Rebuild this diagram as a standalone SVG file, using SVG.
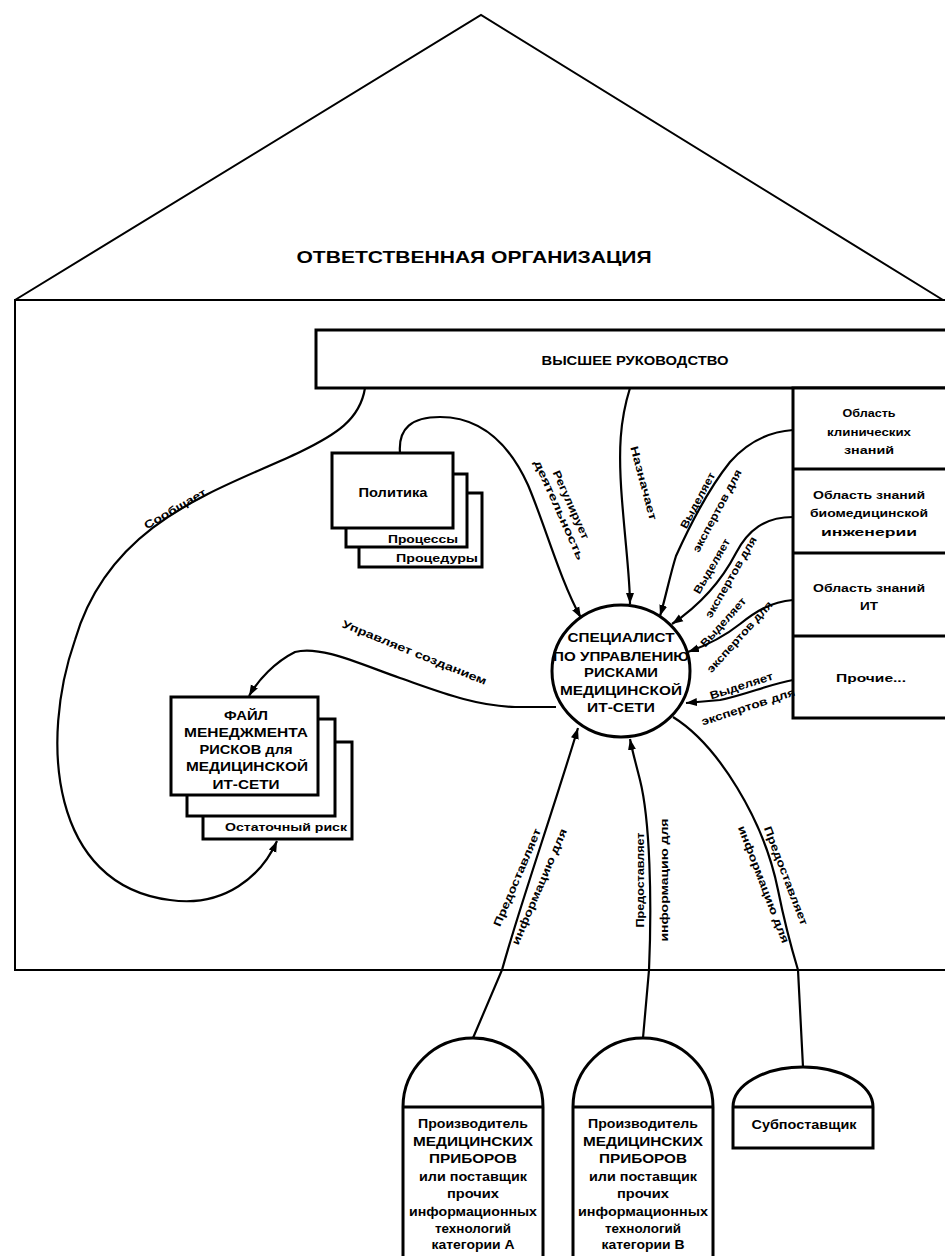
<svg xmlns="http://www.w3.org/2000/svg" width="945" height="1256" viewBox="0 0 945 1256">
<defs>
<style>
.t{font-family:"Liberation Sans",Arial,sans-serif;font-weight:bold;fill:#000}
.c{text-anchor:middle}
.e{text-anchor:end}
.box{fill:#fff;stroke:#000;stroke-width:3}
.thin{fill:none;stroke:#000;stroke-width:2}
.con{fill:none;stroke:#000;stroke-width:2.2}
</style>
<marker id="ah" markerWidth="12" markerHeight="10" refX="11" refY="5" orient="auto" markerUnits="userSpaceOnUse"><path d="M0,1 L11,5 L0,9 z" fill="#000"/></marker>
</defs>
<rect width="945" height="1256" fill="#fff"/>

<g id="organization">
<path class="thin" d="M15,300 L481,15 L943,300"/>
<path class="thin" d="M945,300 L15,300 L15,970 L945,970"/>
<text class="t c" x="474" y="263" font-size="17" textLength="355" lengthAdjust="spacingAndGlyphs">ОТВЕТСТВЕННАЯ ОРГАНИЗАЦИЯ</text>
</g>

<g id="top-management">
<rect class="box" x="316" y="330" width="640" height="58"/>
<text class="t c" x="635" y="365" font-size="12" textLength="187" lengthAdjust="spacingAndGlyphs">ВЫСШЕЕ РУКОВОДСТВО</text>
</g>

<g id="knowledge-domains">
<rect class="box" x="793" y="388" width="160" height="330"/>
<line x1="793" y1="469" x2="945" y2="469" stroke="#000" stroke-width="3"/>
<line x1="793" y1="553" x2="945" y2="553" stroke="#000" stroke-width="3"/>
<line x1="793" y1="636" x2="945" y2="636" stroke="#000" stroke-width="3"/>
<text class="t c" font-size="11"><tspan x="869" y="417" textLength="53" lengthAdjust="spacingAndGlyphs">Область</tspan><tspan x="869" y="436" textLength="84" lengthAdjust="spacingAndGlyphs">клинических</tspan><tspan x="869" y="454" textLength="50" lengthAdjust="spacingAndGlyphs">знаний</tspan></text>
<text class="t c" font-size="11"><tspan x="869" y="499" textLength="112" lengthAdjust="spacingAndGlyphs">Область знаний</tspan><tspan x="869" y="517" textLength="118" lengthAdjust="spacingAndGlyphs">биомедицинской</tspan><tspan x="869" y="536" textLength="96" lengthAdjust="spacingAndGlyphs">инженерии</tspan></text>
<text class="t c" font-size="11"><tspan x="869" y="592" textLength="112" lengthAdjust="spacingAndGlyphs">Область знаний</tspan><tspan x="869" y="610" textLength="18" lengthAdjust="spacingAndGlyphs">ИТ</tspan></text>
<text class="t c" x="871" y="682" font-size="11" textLength="70" lengthAdjust="spacingAndGlyphs">Прочие...</text>
</g>

<g id="policy">
<rect class="box" x="359" y="493" width="123" height="74"/>
<rect class="box" x="346" y="474" width="121" height="73"/>
<rect class="box" x="332" y="453" width="121" height="75"/>
<text class="t c" x="393" y="497" font-size="12" textLength="69" lengthAdjust="spacingAndGlyphs">Политика</text>
<text class="t e" x="458" y="543" font-size="11" textLength="70" lengthAdjust="spacingAndGlyphs">Процессы</text>
<text class="t e" x="478" y="562" font-size="11" textLength="82" lengthAdjust="spacingAndGlyphs">Процедуры</text>
</g>

<g id="risk-file">
<rect class="box" x="203" y="742" width="149" height="97"/>
<rect class="box" x="187" y="719" width="148" height="97"/>
<rect class="box" x="171" y="697" width="147" height="98"/>
<text class="t c" font-size="12"><tspan x="246" y="720" textLength="44" lengthAdjust="spacingAndGlyphs">ФАЙЛ</tspan><tspan x="246" y="737" textLength="124" lengthAdjust="spacingAndGlyphs">МЕНЕДЖМЕНТА</tspan><tspan x="246" y="754" textLength="93" lengthAdjust="spacingAndGlyphs">РИСКОВ для</tspan><tspan x="247" y="771" textLength="122" lengthAdjust="spacingAndGlyphs">МЕДИЦИНСКОЙ</tspan><tspan x="246" y="789" textLength="67" lengthAdjust="spacingAndGlyphs">ИТ-СЕТИ</tspan></text>
<text class="t e" x="347" y="831" font-size="11" textLength="122" lengthAdjust="spacingAndGlyphs">Остаточный риск</text>
</g>

<g id="risk-manager">
<ellipse cx="621" cy="671" rx="69" ry="66" fill="#fff" stroke="#000" stroke-width="3"/>
<text class="t c" font-size="13"><tspan x="621" y="642" textLength="107" lengthAdjust="spacingAndGlyphs">СПЕЦИАЛИСТ</tspan><tspan x="621" y="661" textLength="136" lengthAdjust="spacingAndGlyphs">ПО УПРАВЛЕНИЮ</tspan><tspan x="621" y="677" textLength="74" lengthAdjust="spacingAndGlyphs">РИСКАМИ</tspan><tspan x="621" y="695" textLength="122" lengthAdjust="spacingAndGlyphs">МЕДИЦИНСКОЙ</tspan><tspan x="621" y="712" textLength="68" lengthAdjust="spacingAndGlyphs">ИТ-СЕТИ</tspan></text>
</g>

<g id="supplier-a">
<path class="box" d="M403,1262 L403,1107 A70,69 0 0 1 543,1107 L543,1262"/>
<line x1="403" y1="1107" x2="543" y2="1107" stroke="#000" stroke-width="3"/>
<text class="t c" font-size="12"><tspan x="473" y="1128" textLength="110" lengthAdjust="spacingAndGlyphs">Производитель</tspan><tspan x="473" y="1146" textLength="120" lengthAdjust="spacingAndGlyphs">МЕДИЦИНСКИХ</tspan><tspan x="473" y="1163" textLength="88" lengthAdjust="spacingAndGlyphs">ПРИБОРОВ</tspan><tspan x="473" y="1181" textLength="108" lengthAdjust="spacingAndGlyphs">или поставщик</tspan><tspan x="473" y="1198" textLength="52" lengthAdjust="spacingAndGlyphs">прочих</tspan><tspan x="473" y="1216" textLength="128" lengthAdjust="spacingAndGlyphs">информационных</tspan><tspan x="473" y="1233" textLength="76" lengthAdjust="spacingAndGlyphs">технологий</tspan><tspan x="473" y="1249" textLength="83" lengthAdjust="spacingAndGlyphs">категории А</tspan></text>
</g>

<g id="supplier-b">
<path class="box" d="M573,1262 L573,1107 A70,69 0 0 1 713,1107 L713,1262"/>
<line x1="573" y1="1107" x2="713" y2="1107" stroke="#000" stroke-width="3"/>
<text class="t c" font-size="12"><tspan x="643" y="1128" textLength="110" lengthAdjust="spacingAndGlyphs">Производитель</tspan><tspan x="643" y="1146" textLength="120" lengthAdjust="spacingAndGlyphs">МЕДИЦИНСКИХ</tspan><tspan x="643" y="1163" textLength="88" lengthAdjust="spacingAndGlyphs">ПРИБОРОВ</tspan><tspan x="643" y="1181" textLength="108" lengthAdjust="spacingAndGlyphs">или поставщик</tspan><tspan x="643" y="1198" textLength="52" lengthAdjust="spacingAndGlyphs">прочих</tspan><tspan x="643" y="1216" textLength="130" lengthAdjust="spacingAndGlyphs">информационных</tspan><tspan x="643" y="1233" textLength="76" lengthAdjust="spacingAndGlyphs">технологий</tspan><tspan x="643" y="1249" textLength="83" lengthAdjust="spacingAndGlyphs">категории В</tspan></text>
</g>

<g id="subcontractor">
<path class="box" d="M733,1148 L733,1107 A70,40 0 0 1 873,1107 L873,1148 Z"/>
<line x1="733" y1="1107" x2="873" y2="1107" stroke="#000" stroke-width="3"/>
<text class="t c" x="804" y="1129" font-size="12" textLength="105" lengthAdjust="spacingAndGlyphs">Субпоставщик</text>
</g>

<g id="connectors">
<path class="con" d="M630,388 C620,420 618,450 622,500 C626,550 630,580 630,604" marker-end="url(#ah)"/>
<path class="con" d="M400,453 C398,428 412,417 440,417 C485,417 512,450 528,485 C545,525 560,580 581,618" marker-end="url(#ah)"/>
<path class="con" d="M793,430 C765,432 745,445 730,462 C710,487 690,525 676,556 C670,575 665,600 660,616" marker-end="url(#ah)"/>
<path class="con" d="M793,517 C765,517 748,530 736,553 C722,580 700,605 672,624" marker-end="url(#ah)"/>
<path class="con" d="M793,600 C770,602 755,612 740,624 C725,636 705,646 688,652" marker-end="url(#ah)"/>
<path class="con" d="M793,680 C770,684 745,695 720,700 L686,703" marker-end="url(#ah)"/>
<path class="con" d="M556,707 L515,707 C475,706 440,692 400,678 C360,664 320,645 295,652 C275,662 258,680 249,696" marker-end="url(#ah)"/>
<path class="con" d="M365,388 C360,420 335,435 300,452 C220,490 110,520 75,640 C40,740 50,885 170,900 C225,908 262,875 277,841" marker-end="url(#ah)"/>
<path class="con" d="M473,1038 L502,970 C520,905 550,820 578,728" marker-end="url(#ah)"/>
<path class="con" d="M643,1038 L649,970 C652,900 650,820 640,780 C635,760 632,750 630,739" marker-end="url(#ah)"/>
<path class="con" d="M673,717 C718,745 764,820 778,890 C786,930 795,960 798,970 L803,1067"/>

<text class="t c" font-size="11" transform="translate(177,512) rotate(-30)" textLength="70" lengthAdjust="spacingAndGlyphs">Сообщает</text>
<text class="t c" font-size="11" transform="translate(640,484) rotate(75)" textLength="76" lengthAdjust="spacingAndGlyphs">Назначает</text>
<g class="t" font-size="11" transform="translate(564,508) rotate(66)"><text class="c" y="-4" textLength="74" lengthAdjust="spacingAndGlyphs">Регулирует</text><text class="c" y="9" textLength="108" lengthAdjust="spacingAndGlyphs">деятельность</text></g>
<g class="t" font-size="11" transform="translate(708,506) rotate(-62)"><text class="c" y="-8" textLength="62" lengthAdjust="spacingAndGlyphs">Выделяет</text><text class="c" y="14" textLength="92" lengthAdjust="spacingAndGlyphs">экспертов для</text></g>
<g class="t" font-size="11" transform="translate(722,572) rotate(-60)"><text class="c" y="-8" textLength="62" lengthAdjust="spacingAndGlyphs">Выделяет</text><text class="c" y="14" textLength="92" lengthAdjust="spacingAndGlyphs">экспертов для</text></g>
<g class="t" font-size="11" transform="translate(732,630) rotate(-48)"><text class="c" y="-8" textLength="62" lengthAdjust="spacingAndGlyphs">Выделяет</text><text class="c" y="14" textLength="92" lengthAdjust="spacingAndGlyphs">экспертов для</text></g>
<g class="t" font-size="11" transform="translate(745,697) rotate(-18)"><text class="c" y="-8" textLength="66" lengthAdjust="spacingAndGlyphs">Выделяет</text><text class="c" y="14" textLength="98" lengthAdjust="spacingAndGlyphs">экспертов для</text></g>
<text class="t c" font-size="11" transform="translate(413,656) rotate(22)" textLength="155" lengthAdjust="spacingAndGlyphs">Управляет созданием</text>
<g class="t" font-size="11" transform="translate(528,882) rotate(-67)"><text class="c" y="-8" textLength="105" lengthAdjust="spacingAndGlyphs">Предоставляет</text><text class="c" y="16" textLength="125" lengthAdjust="spacingAndGlyphs">информацию для</text></g>
<g class="t" font-size="11" transform="translate(652,880) rotate(-90)"><text class="c" y="-8" textLength="95" lengthAdjust="spacingAndGlyphs">Предоставляет</text><text class="c" y="16" textLength="123" lengthAdjust="spacingAndGlyphs">информацию для</text></g>
<g class="t" font-size="11" transform="translate(775,880) rotate(69)"><text class="c" y="-8" textLength="105" lengthAdjust="spacingAndGlyphs">Предоставляет</text><text class="c" y="16" textLength="125" lengthAdjust="spacingAndGlyphs">информацию для</text></g>
</g>
</svg>
